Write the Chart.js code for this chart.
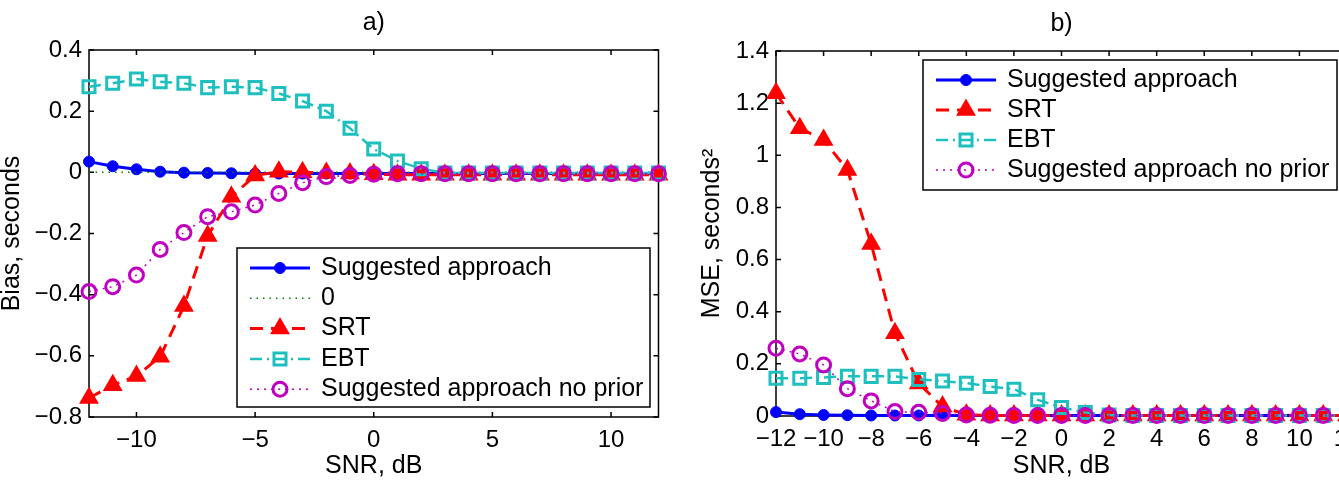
<!DOCTYPE html>
<html>
<head>
<meta charset="utf-8">
<script src="https://cdn.jsdelivr.net/npm/chart.js@4/dist/chart.umd.min.js"></script>
<style>
  html, body { margin: 0; padding: 0; overflow: hidden; background: #fff; }
  body { width: 1339px; height: 484px; position: relative; }
  canvas { position: absolute; top: 0; }
  #biasChart { left: 0; }
  #mseChart { left: 670px; }
</style>
</head>
<body>
<canvas id="biasChart" width="670" height="484"></canvas>
<canvas id="mseChart" width="700" height="484"></canvas>
<script>
// SNR grid, dB
const snr = [-12, -11, -10, -9, -8, -7, -6, -5, -4, -3, -2, -1, 0, 1, 2, 3, 4, 5, 6, 7, 8, 9, 10, 11, 12];

// a) bias, seconds
const biasSuggested = [0.035, 0.02, 0.01, 0.002, -0.001, -0.002, -0.003, -0.004, -0.004, -0.004, -0.004, -0.004, -0.004, -0.004, -0.004, -0.004, -0.004, -0.004, -0.004, -0.004, -0.004, -0.004, -0.004, -0.004, -0.004];
const biasZero = [0, 0, 0, 0, 0, 0, 0, 0, 0, 0, 0, 0, 0, 0, 0, 0, 0, 0, 0, 0, 0, 0, 0, 0, 0];
const biasSRT = [-0.738, -0.696, -0.666, -0.603, -0.437, -0.208, -0.08, -0.01, 0.002, 0.0, -0.002, -0.004, -0.006, -0.008, -0.008, -0.008, -0.008, -0.008, -0.008, -0.008, -0.008, -0.008, -0.008, -0.008, -0.008];
const biasEBT = [0.28, 0.291, 0.305, 0.296, 0.291, 0.277, 0.28, 0.277, 0.258, 0.233, 0.2, 0.144, 0.076, 0.037, 0.012, -0.002, -0.002, -0.002, -0.002, -0.002, -0.002, -0.002, -0.002, -0.002, -0.002];
const biasNoPrior = [-0.39, -0.374, -0.336, -0.252, -0.197, -0.145, -0.129, -0.107, -0.069, -0.034, -0.014, -0.01, -0.006, -0.005, -0.005, -0.005, -0.005, -0.005, -0.005, -0.005, -0.005, -0.005, -0.005, -0.005, -0.005];

// b) MSE, seconds^2
const mseSuggested = [0.015, 0.007, 0.004, 0.003, 0.002, 0.002, 0.002, 0.002, 0.002, 0.002, 0.002, 0.002, 0.002, 0.002, 0.002, 0.002, 0.002, 0.002, 0.002, 0.002, 0.002, 0.002, 0.002, 0.002, 0.002];
const mseSRT = [1.238, 1.104, 1.059, 0.944, 0.66, 0.317, 0.125, 0.036, 0.005, 0.002, 0.002, 0.002, 0.002, 0.002, 0.002, 0.002, 0.002, 0.002, 0.002, 0.002, 0.002, 0.002, 0.002, 0.002, 0.002];
const mseEBT = [0.145, 0.145, 0.148, 0.152, 0.152, 0.152, 0.14, 0.134, 0.126, 0.113, 0.103, 0.062, 0.033, 0.013, 0.004, 0.002, 0.002, 0.002, 0.002, 0.002, 0.002, 0.002, 0.002, 0.002, 0.002];
const mseNoPrior = [0.26, 0.238, 0.196, 0.105, 0.058, 0.017, 0.014, 0.01, 0.004, 0.003, 0.002, 0.002, 0.002, 0.002, 0.002, 0.002, 0.002, 0.002, 0.002, 0.002, 0.002, 0.002, 0.002, 0.002, 0.002];

const FONT = "'Liberation Sans', Arial, Helvetica, sans-serif";
Chart.defaults.font.family = FONT;
Chart.defaults.font.size = 24;
Chart.defaults.color = '#000';

const pts = arr => snr.map((x, i) => ({ x: x, y: arr[i] }));
const minus = v => String(Number(Number(v).toFixed(2))).replace('-', '\u2212');

// matlab-ish series styles
const styleSuggested = { borderColor: '#0000ff', borderWidth: 3, pointStyle: 'circle', pointRadius: 5.5, pointBackgroundColor: '#0000ff', pointBorderColor: '#0000ff', pointBorderWidth: 1 };
const styleZero = { borderColor: '#008000', borderWidth: 1.5, borderDash: [1.5, 5], pointRadius: 0 };
const styleSRT = { borderColor: '#ff0000', borderWidth: 3, borderDash: [13, 8], pointStyle: 'triangle', pointRadius: 10, pointBackgroundColor: '#ff0000', pointBorderColor: '#ff0000', pointBorderWidth: 1.5 };
const styleEBT = { borderColor: '#1fbfbf', borderWidth: 2.5, borderDash: [12, 5, 2, 5], pointStyle: 'rect', pointRadius: 8.5, pointBackgroundColor: 'rgba(0,0,0,0)', pointBorderColor: '#1fbfbf', pointBorderWidth: 3 };
const styleNoPrior = { borderColor: '#bf00bf', borderWidth: 1.5, borderDash: [2, 5], pointStyle: 'circle', pointRadius: 7, pointBackgroundColor: 'rgba(0,0,0,0)', pointBorderColor: '#bf00bf', pointBorderWidth: 3 };

function series(label, arr, style, order) {
  return Object.assign({ label: label, data: pts(arr), order: order, clip: false, tension: 0, fill: false, pointHoverRadius: 0 }, style);
}

// box round the axes with inward ticks on all four sides, title centred over the axes
const matlabBox = {
  id: 'matlabBox',
  beforeDatasetsDraw(chart, args, o) {
    const { ctx, chartArea: a, scales } = chart;
    ctx.save();
    ctx.strokeStyle = '#000';
    ctx.lineWidth = 1.5;
    ctx.strokeRect(a.left, a.top, a.right - a.left, a.bottom - a.top);
    ctx.beginPath();
    scales.x.ticks.forEach(t => {
      const px = scales.x.getPixelForValue(t.value);
      ctx.moveTo(px, a.bottom); ctx.lineTo(px, a.bottom - 5);
      ctx.moveTo(px, a.top); ctx.lineTo(px, a.top + 5);
    });
    scales.y.ticks.forEach(t => {
      const py = scales.y.getPixelForValue(t.value);
      ctx.moveTo(a.left, py); ctx.lineTo(a.left + 5, py);
      ctx.moveTo(a.right, py); ctx.lineTo(a.right - 5, py);
    });
    ctx.stroke();
    ctx.fillStyle = '#000';
    ctx.font = '25px ' + FONT;
    ctx.textAlign = 'center';
    ctx.textBaseline = 'middle';
    ctx.fillText(o.title, (a.left + a.right) / 2, a.top - 27);
    ctx.restore();
  }
};

// legend in a framed box, line sample + marker + text per row
const boxLegend = {
  id: 'boxLegend',
  afterDraw(chart, args, o) {
    const ctx = chart.ctx;
    const a = chart.chartArea;
    const x = a.left + o.dx, y = a.top + o.dy;
    ctx.save();
    ctx.fillStyle = '#fff';
    ctx.fillRect(x, y, o.w, o.h);
    ctx.strokeStyle = '#000';
    ctx.lineWidth = 1.5;
    ctx.strokeRect(x, y, o.w, o.h);
    ctx.font = o.fontSize + 'px ' + FONT;
    ctx.textBaseline = 'middle';
    chart.data.datasets.forEach((ds, i) => {
      const cy = y + o.first + i * o.rowH;
      ctx.strokeStyle = ds.borderColor;
      ctx.lineWidth = ds.borderWidth;
      ctx.setLineDash(ds.borderDash || []);
      ctx.beginPath();
      ctx.moveTo(x + 13, cy);
      ctx.lineTo(x + 73, cy);
      ctx.stroke();
      ctx.setLineDash([]);
      if (ds.pointRadius > 0) {
        ctx.fillStyle = ds.pointBackgroundColor;
        ctx.strokeStyle = ds.pointBorderColor;
        ctx.lineWidth = ds.pointBorderWidth;
        Chart.helpers.drawPoint(ctx, { pointStyle: ds.pointStyle, radius: ds.pointRadius, borderWidth: ds.pointBorderWidth, rotation: 0 }, x + 43, cy);
      }
      ctx.fillStyle = '#000';
      ctx.fillText(ds.label, x + 84, cy);
    });
    ctx.restore();
  }
};

function axisOpts(min, max, step, title, fit, titlePad, tickPad, includeBounds) {
  return {
    type: 'linear', min: min, max: max,
    grid: { display: false, drawTicks: false },
    border: { display: false },
    ticks: { stepSize: step, padding: tickPad, includeBounds: includeBounds, callback: minus, maxRotation: 0, autoSkip: false },
    title: { display: true, text: title, font: { size: 25, lineHeight: 1 }, padding: titlePad },
    afterFit: fit
  };
}

new Chart(document.getElementById('biasChart'), {
  type: 'line',
  data: {
    datasets: [
      series('Suggested approach', biasSuggested, styleSuggested, 5),
      series('0', biasZero, styleZero, 4),
      series('SRT', biasSRT, styleSRT, 3),
      series('EBT', biasEBT, styleEBT, 2),
      series('Suggested approach no prior', biasNoPrior, styleNoPrior, 1)
    ]
  },
  options: {
    responsive: false,
    animation: false,
    events: [],
    layout: { padding: { left: 0, right: 10, top: 50, bottom: 0 } },
    scales: {
      x: axisOpts(-12, 12, 5, 'SNR, dB', s => { s.height = 67; }, { top: 0, bottom: 5.5 }, 9, false),
      y: axisOpts(-0.8, 0.4, 0.2, 'Bias, seconds', s => { s.width = 89; }, { top: 0, bottom: 0 }, 7, true)
    },
    plugins: {
      legend: { display: false },
      tooltip: { enabled: false },
      matlabBox: { title: 'a)' },
      boxLegend: { dx: 148, dy: 198, w: 413, h: 159, first: 20, rowH: 30.3, fontSize: 25 }
    }
  },
  plugins: [matlabBox, boxLegend]
});

new Chart(document.getElementById('mseChart'), {
  type: 'line',
  data: {
    datasets: [
      series('Suggested approach', mseSuggested, styleSuggested, 4),
      series('SRT', mseSRT, styleSRT, 3),
      series('EBT', mseEBT, styleEBT, 2),
      series('Suggested approach no prior', mseNoPrior, styleNoPrior, 1)
    ]
  },
  options: {
    responsive: false,
    animation: false,
    events: [],
    layout: { padding: { left: 0, right: 23, top: 51, bottom: 0 } },
    scales: {
      x: axisOpts(-12, 12, 2, 'SNR, dB', s => { s.height = 68; }, { top: 0, bottom: 5.5 }, 9, true),
      y: axisOpts(0, 1.4, 0.2, 'MSE, seconds\u00b2', s => { s.width = 106; }, { top: 30, bottom: 0 }, 7, true)
    },
    plugins: {
      legend: { display: false },
      tooltip: { enabled: false },
      matlabBox: { title: 'b)' },
      boxLegend: { dx: 147, dy: 9, w: 414, h: 130, first: 20, rowH: 30, fontSize: 25 }
    }
  },
  plugins: [matlabBox, boxLegend]
});
</script>
</body>
</html>
